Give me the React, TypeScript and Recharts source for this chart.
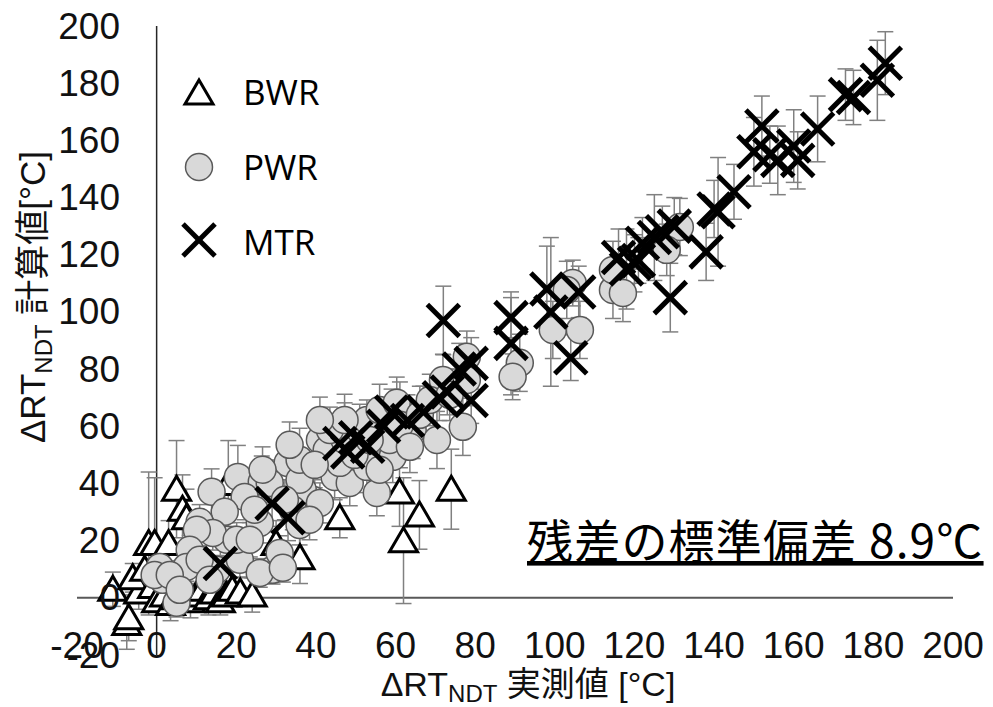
import React from 'react';
import { ScatterChart, Scatter, XAxis, YAxis, ErrorBar, ReferenceLine, Legend } from 'recharts';

// ---- axis ticks ----
const xTicks = [-20, 0, 20, 40, 60, 80, 100, 120, 140, 160, 180, 200];
const yTicks = [-20, 0, 20, 40, 60, 80, 100, 120, 140, 160, 180, 200];

// ---- series: [measured ΔRT, calculated ΔRT, error] ----
const bwrPoints: [number, number, number][] = [
  [5, 38, 17], [6.5, 31, 12], [7.5, 28, 10], [-2, 19, 25], [-0.5, 19, 23], [3, 19, 8],
  [18, 40, 15], [-11, 3, 6], [-7.5, -9, 9], [-7, -7, 8], [-4.5, 2, 6], [-6, 7, 5],
  [-3, 10, 6], [-1, 4, 5], [0, -1, 4], [2, 1, 5], [3.5, -2, 6], [5, 0, 4], [7, 2, 5],
  [8.5, -1, 6], [10, 1, 4], [11.5, 3, 5], [13, 0, 6], [14.5, 2, 4], [16, -1, 5],
  [17.5, 1, 4], [19, 3, 6], [21, 2, 5], [24, 1, 6], [30, 19, 8], [36, 14, 9],
  [46, 28, 7], [61, 37, 12], [66, 29, 12], [62, 20, 22], [74, 38, 14],
];

const pwrPoints: [number, number, number][] = [
  [13.8, 37.1, 8], [20.4, 42.3, 11], [26.4, 40.6, 9], [32.9, 47.2, 9], [22.1, 35.3, 8],
  [17.1, 30.1, 7], [10.8, 26.6, 6], [25.9, 26.2, 7], [17.6, 20.3, 6], [14.1, 22.7, 6],
  [10.1, 23.8, 6], [8.3, 16.8, 5], [7.5, 10.8, 5], [1.5, 6.3, 5], [0.8, 10.8, 5],
  [5.0, -1.7, 5], [15.1, 9.8, 5], [20.9, 13.3, 6], [20.1, 20.3, 6], [29.1, 9.8, 5],
  [25.9, 8.7, 5], [30.9, 15.7, 6], [31.7, 10.5, 5], [41.0, 55.2, 7], [39.2, 34.3, 7],
  [36.7, 37.8, 8], [41.0, 33.2, 7], [44.7, 42.3, 8], [48.5, 40.2, 8], [52.8, 45.8, 9],
  [55.3, 36.7, 8], [42.7, 51.7, 8], [46.0, 47.2, 8], [28.4, 40.2, 8], [26.6, 44.8, 8],
  [34.2, 30.8, 7], [35.9, 25.5, 7], [38.4, 27.3, 7], [24.6, 30.8, 7], [23.4, 20.3, 6],
  [10.8, 13.3, 5], [13.3, 6.3, 5], [35.9, 41.3, 8], [32.2, 34.3, 7], [47.2, 55.2, 13],
  [51.0, 58.7, 9], [52.8, 62.2, 7], [56.0, 65.7, 9], [60.3, 68.2, 9], [59.3, 49.3, 9],
  [64.3, 58.7, 10], [70.4, 55.2, 10], [76.9, 59.8, 10], [71.9, 76.2, 9], [77.9, 84.3, 9],
  [77.9, 76.2, 9], [91.2, 82.2, 10], [89.4, 77.3, 8], [99.5, 93.7, 10], [106.3, 93.7, 10],
  [104.5, 110.1, 8], [103.0, 107.7, 10], [114.6, 107.7, 10], [114.6, 114.7, 10],
  [131.4, 129.7, 10], [128.1, 121.7, 9], [117.1, 106.6, 10], [58.5, 55.2, 9],
  [61.1, 60.5, 15], [49.7, 50.0, 8], [56.0, 44.8, 8], [66.1, 64.0, 10], [68.6, 69.2, 9],
  [73.6, 71.0, 9], [63.6, 52.8, 9], [43.5, 58.7, 8], [47.2, 62.2, 9], [53.5, 55.2, 8],
  [41.0, 62.2, 8], [35.9, 48.3, 11], [33.4, 53.5, 8], [39.7, 46.5, 8], [-0.5, 8.0, 5],
  [3.3, 8.0, 5], [5.8, 2.8, 5],
];

const mtrPoints: [number, number, number][] = [
  [183, 187, 11], [181, 181, 14], [175, 175, 9.5], [173, 176, 9], [166, 164, 11.5],
  [152, 165, 10.5], [150, 156, 12], [156, 153, 12], [160, 158, 12.7], [154, 155, 10],
  [161, 153, 10], [145, 142, 9.6], [141, 135, 19], [140, 136, 10], [138, 121, 10],
  [129, 105, 12], [127, 128, 9], [130, 130, 10], [125, 126, 15], [122, 124, 9],
  [121, 118, 8], [118, 115, 14], [116, 119, 10], [120, 117, 10], [106, 107, 9],
  [98, 108, 15], [99, 100, 26], [104, 84, 8], [89, 98, 7], [89, 89, 18], [72, 97, 12],
  [79, 82, 9], [79, 69, 8], [76, 80, 9], [71, 70, 8], [67, 65, 9], [59, 65, 8],
  [57, 60, 9], [50, 56, 8], [46, 54, 9], [48, 51, 8], [29, 33, 8], [33, 28, 8],
  [16, 12, 6], [73, 72, 8], [63, 62, 9], [53, 53, 8],
];

const seriesNames = ['BWR', 'PWR', 'MTR'];
const annotation = '残差の標準偏差 8.9℃';

const toData = (pts: [number, number, number][]) => pts.map(([x, y, err]) => ({ x, y, err }));
const bwrData = toData(bwrPoints);
const pwrData = toData(pwrPoints);
const mtrData = toData(mtrPoints);

const LATIN = "'Liberation Sans', Arial, 'Noto Sans CJK JP', sans-serif";

const Triangle = (p: any) => {
  const { cx, cy } = p;
  if (cx == null || cy == null) return <g />;
  return (
    <path d={`M${cx},${cy - 13} L${cx + 14},${cy + 11} L${cx - 14},${cy + 11} Z`}
      fill="#ffffff" stroke="#000" strokeWidth={3} />
  );
};
const Dot = (p: any) => {
  const { cx, cy } = p;
  if (cx == null || cy == null) return <g />;
  return <circle cx={cx} cy={cy} r={13.5} fill="#d9d9d9" stroke="#595959" strokeWidth={1.5} />;
};
const Cross = (p: any) => {
  const { cx, cy } = p;
  if (cx == null || cy == null) return <g />;
  const h = 16;
  return (
    <g stroke="#000" strokeWidth={5}>
      <line x1={cx - h} y1={cy - h} x2={cx + h} y2={cy + h} />
      <line x1={cx - h} y1={cy + h} x2={cx + h} y2={cy - h} />
    </g>
  );
};

const XTick = (p: any) => (
  <text x={p.x} y={p.y - 10} textAnchor="middle" dominantBaseline="central"
    fontFamily={LATIN} fontSize={37} fill="#111">{p.payload.value}</text>
);
const YTick = (p: any) => (
  <text x={p.x + 43} y={p.y} textAnchor="end" dominantBaseline="central"
    fontFamily={LATIN} fontSize={37} fill="#111">{p.payload.value}</text>
);

const legendIcon = (name: string) => {
  if (name === 'BWR') return <Triangle cx={20} cy={21} />;
  if (name === 'PWR') return <Dot cx={20} cy={20} />;
  return <Cross cx={20} cy={18} />;
};

const renderLegend = () => (
  <div style={{ fontFamily: "'Open Sans', sans-serif", fontSize: 35, color: '#000' }}>
    {seriesNames.map((n) => (
      <div key={n} style={{ display: 'flex', alignItems: 'center', height: 75 }}>
        <svg width={40} height={40}>{legendIcon(n)}</svg>
        <span style={{ marginLeft: 24 }}>{n}</span>
      </div>
    ))}
  </div>
);

export default function App() {
  return (
    <div style={{ position: 'absolute', left: 0, top: 0, width: 993, height: 707, background: '#fff' }}>
      <ScatterChart width={993} height={707} margin={{ top: 26, right: 40, bottom: 51, left: 76 }}>
        <XAxis type="number" dataKey="x" domain={[-20, 200]} ticks={xTicks} interval={0}
          axisLine={false} tickLine={false} tickSize={0} tickMargin={0} height={1}
          tick={XTick} allowDataOverflow />
        <YAxis type="number" dataKey="y" domain={[-20, 200]} ticks={yTicks} interval={0}
          axisLine={false} tickLine={false} tickSize={0} tickMargin={0} width={1}
          tick={YTick} allowDataOverflow />
        <ReferenceLine y={0} stroke="#595959" strokeWidth={2} />
        <ReferenceLine x={0} stroke="#262626" strokeWidth={1.5} />
        <Scatter name="BWR" data={bwrData} shape={Triangle} isAnimationActive={false}>
          <ErrorBar dataKey="err" direction="y" width={8} stroke="#808080" strokeWidth={1.5} />
        </Scatter>
        <Scatter name="PWR" data={pwrData} shape={Dot} isAnimationActive={false}>
          <ErrorBar dataKey="err" direction="y" width={8} stroke="#808080" strokeWidth={1.5} />
        </Scatter>
        <Scatter name="MTR" data={mtrData} shape={Cross} isAnimationActive={false}>
          <ErrorBar dataKey="err" direction="y" width={8} stroke="#808080" strokeWidth={1.5} />
        </Scatter>
        <Legend layout="vertical" align="center" verticalAlign="middle" content={renderLegend}
          wrapperStyle={{ left: 179, top: 54, width: 'auto', height: 'auto' }} />
      </ScatterChart>
      <svg width={993} height={707} style={{ position: 'absolute', left: 0, top: 0, pointerEvents: 'none' }}>
        <text x={528} y={696} textAnchor="middle" fontFamily={LATIN} fontSize={34} fill="#111">
          ΔRT<tspan fontSize={24} dy={6}>NDT</tspan><tspan dy={-6}> 実測値 [°C]</tspan>
        </text>
        <text transform="translate(45,297) rotate(-90)" textAnchor="middle" fontFamily={LATIN} fontSize={35} fill="#111">
          ΔRT<tspan fontSize={24} dy={7}>NDT</tspan><tspan dy={-7}> 計算値[°C]</tspan>
        </text>
        <text x={527} y={558} fontFamily="'Noto Sans CJK JP', sans-serif" fontSize={46} letterSpacing={1.2}
          fill="#000" textDecoration="underline">{annotation}</text>
      </svg>
    </div>
  );
}
